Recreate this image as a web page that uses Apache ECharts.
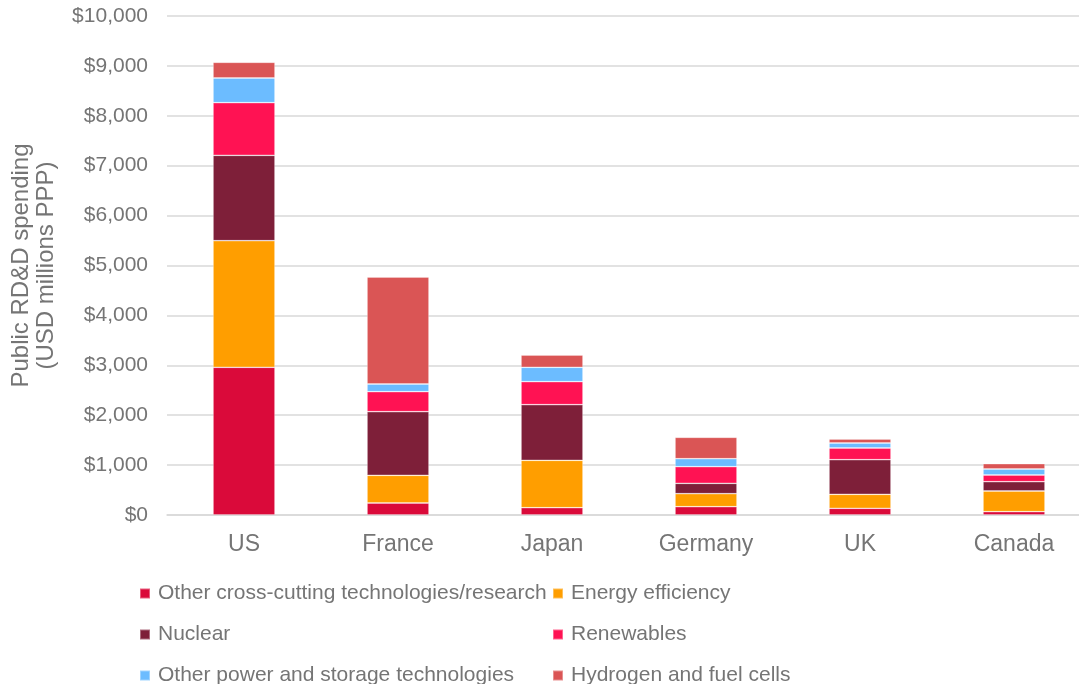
<!DOCTYPE html>
<html>
<head>
<meta charset="utf-8">
<script src="https://cdn.jsdelivr.net/npm/echarts@6/dist/echarts.min.js"></script>
<style>
  html, body { margin: 0; padding: 0; background: #fff; overflow: hidden; }
  /* plot area runs a little past the right edge, as in the original */
  #chart { width: 1091px; height: 684px; }
</style>
</head>
<body>
<div id="chart"></div>
<script>
// countries along the x axis
var countries = ["US", "France", "Japan", "Germany", "UK", "Canada"];

// spending by technology, USD millions PPP
var crossCutting = [2960, 240, 146, 166, 134, 66];
var efficiency = [2537, 556, 950, 261, 281, 415];
var nuclear = [1711, 1274, 1115, 208, 693, 186];
var renewables = [1055, 401, 461, 333, 235, 135];
var otherPower = [495, 154, 288, 160, 100, 120];
var hydrogen = [314, 2145, 246, 429, 80, 106];

var yTicks = [0, 10000, 1000]; // min, max, step

var gray = "#757575";
var font = "Liberation Sans, Arial, sans-serif";

function bar(name, data, color) {
  return {
    name: name,
    type: "bar",
    stack: "total",
    barWidth: 62,
    data: data,
    itemStyle: {
      color: color,
      borderColor: "rgba(255,255,255,0.35)",
      borderWidth: 0.8,
    },
  };
}

function legendCol(left, names) {
  return {
    orient: "vertical",
    left: left,
    top: 583,
    height: 120,
    padding: 0,
    itemWidth: 10,
    itemHeight: 10,
    itemGap: 20,
    icon: "rect",
    data: names,
    textStyle: { color: gray, fontSize: 21, lineHeight: 20, padding: [0, 0, 0, 3], fontFamily: font },
  };
}

var myChart = echarts.init(document.getElementById("chart"));
myChart.setOption({
  animation: false,
  textStyle: { fontFamily: font },
  grid: { left: 167, right: 0, top: 16, bottom: 169 },
  xAxis: {
    type: "category",
    data: countries,
    axisLine: { lineStyle: { color: "#d9d9d9", width: 1.5 } },
    axisTick: { show: false },
    axisLabel: { color: gray, fontSize: 23, margin: 18, fontFamily: font },
  },
  yAxis: {
    type: "value",
    min: yTicks[0],
    max: yTicks[1],
    interval: yTicks[2],
    name: "Public RD&D spending\n(USD millions PPP)",
    nameLocation: "middle",
    nameGap: 108,
    nameTextStyle: { color: gray, fontSize: 24, lineHeight: 25, fontFamily: font },
    axisLine: { show: false },
    axisTick: { show: false },
    splitLine: { lineStyle: { color: "#d9d9d9", width: 1.5 } },
    axisLabel: {
      color: gray,
      fontSize: 21,
      margin: 19,
      fontFamily: font,
      formatter: function (v) {
        return "$" + v.toLocaleString("en-US");
      },
    },
  },
  // legend in two columns under the plot
  legend: [
    legendCol(139, ["Other cross-cutting technologies/research", "Nuclear", "Other power and storage technologies"]),
    legendCol(552, ["Energy efficiency", "Renewables", "Hydrogen and fuel cells"]),
  ],
  series: [
    bar("Other cross-cutting technologies/research", crossCutting, "#da0a3a"),
    bar("Energy efficiency", efficiency, "#ff9e00"),
    bar("Nuclear", nuclear, "#7e1f39"),
    bar("Renewables", renewables, "#ff1253"),
    bar("Other power and storage technologies", otherPower, "#6cbcff"),
    bar("Hydrogen and fuel cells", hydrogen, "#da5555"),
  ],
});
</script>
</body>
</html>
